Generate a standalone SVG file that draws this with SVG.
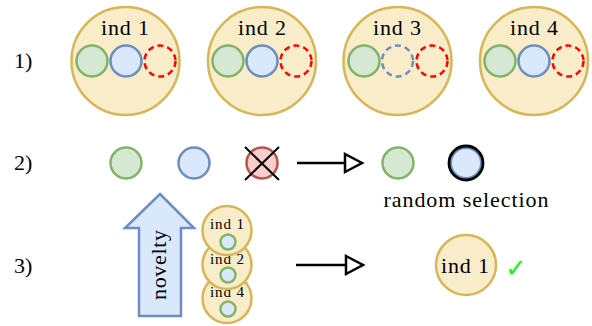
<svg xmlns="http://www.w3.org/2000/svg" width="592" height="326" viewBox="0 0 592 326">
<style>
.ind{fill:#f9edc9;stroke:#d6b656;stroke-width:2.5}
.g{fill:#d5e8d4;stroke:#82b366;stroke-width:2.5}
.b{fill:#dae8fc;stroke:#6c8ebf;stroke-width:2.5}
.gb{fill:#dae8fc;stroke:#82b366;stroke-width:2.5}
.r{fill:#f8cecc;stroke:#b85450;stroke-width:2.5}
.rd{fill:none;stroke:#ff0000;stroke-width:2.5;stroke-dasharray:6 4}
.bd{fill:none;stroke:#6c8ebf;stroke-width:2.5;stroke-dasharray:6 4}
.conn{stroke:#000;stroke-width:2.5;fill:none}
</style>
<defs>
<marker id="open" markerUnits="userSpaceOnUse" markerWidth="22" markerHeight="24" refX="19" refY="11" orient="auto">
<path d="M2,2 L19,11 L2,20 Z" fill="#fff" stroke="#000" stroke-width="2.5"/>
</marker>
</defs>

<text font-family="Liberation Serif" font-size="22" x="14" y="68">1)</text>
<text font-family="Liberation Serif" font-size="22" x="14" y="170">2)</text>
<text font-family="Liberation Serif" font-size="22" x="14" y="273">3)</text>

<g id="ind1">
<circle class="ind" cx="125.5" cy="61" r="54"/>
<text font-family="Liberation Serif" font-size="22" x="125" y="35" text-anchor="middle" textLength="48">ind 1</text>
<circle class="g" cx="92" cy="61" r="15.5"/>
<circle class="b" cx="126" cy="61" r="15.5"/>
<circle class="rd" cx="160" cy="61" r="15.5"/>
</g>
<g id="ind2">
<circle class="ind" cx="262" cy="61" r="54"/>
<text font-family="Liberation Serif" font-size="22" x="262" y="35" text-anchor="middle" textLength="48">ind 2</text>
<circle class="g" cx="228" cy="61" r="15.5"/>
<circle class="b" cx="262" cy="61" r="15.5"/>
<circle class="rd" cx="296" cy="61" r="15.5"/>
</g>
<g id="ind3">
<circle class="ind" cx="397.5" cy="61" r="54"/>
<text font-family="Liberation Serif" font-size="22" x="397" y="35" text-anchor="middle" textLength="48">ind 3</text>
<circle class="g" cx="364" cy="61" r="15.5"/>
<circle class="bd" cx="397.5" cy="61" r="15.5"/>
<circle class="rd" cx="432" cy="61" r="15.5"/>
</g>
<g id="ind4">
<circle class="ind" cx="534" cy="61" r="54"/>
<text font-family="Liberation Serif" font-size="22" x="534" y="35" text-anchor="middle" textLength="48">ind 4</text>
<circle class="g" cx="500" cy="61" r="15.5"/>
<circle class="b" cx="534" cy="61" r="15.5"/>
<circle class="rd" cx="568" cy="61" r="15.5"/>
</g>

<g id="row2-green"><circle class="g" cx="126" cy="163" r="15.5"/></g>
<g id="row2-blue"><circle class="b" cx="194" cy="163" r="15.5"/></g>
<g id="row2-red">
<circle class="r" cx="262" cy="163" r="15.5"/>
<path d="M245,147 L279,180 M279,147 L245,180" stroke="#000" stroke-width="2"/>
</g>
<g id="sel-green"><circle class="g" cx="398" cy="163" r="15.5"/></g>
<g id="sel-blue">
<circle cx="466" cy="163" r="15" fill="#dae8fc" stroke="#6c8ebf" stroke-width="2"/>
<circle cx="466" cy="163" r="17" fill="none" stroke="#000" stroke-width="2.8"/>
</g>
<text font-family="Liberation Serif" font-size="22" x="466" y="207" text-anchor="middle" textLength="165">random selection</text>

<g id="novelty">
<path d="M160,194 L194,228 L181,228 L181,316 L139,316 L139,228 L125,228 Z" fill="#dae8fc" stroke="#6c8ebf" stroke-width="2.5"/>
<text font-family="Liberation Serif" font-size="22" transform="translate(166,265) rotate(-90)" x="0" y="0" text-anchor="middle" textLength="70">novelty</text>
</g>

<g id="stack-ind4">
<circle class="ind" cx="227" cy="298.5" r="24.5"/>
<text font-family="Liberation Serif" font-size="15" x="227" y="297" text-anchor="middle" textLength="34">ind 4</text>
<circle class="gb" cx="228" cy="309" r="7.5"/>
</g>
<g id="stack-ind2">
<circle class="ind" cx="227" cy="264.5" r="24.5"/>
<text font-family="Liberation Serif" font-size="15" x="227" y="264" text-anchor="middle" textLength="34">ind 2</text>
<circle class="gb" cx="228" cy="275" r="7.5"/>
</g>
<g id="stack-ind1">
<circle class="ind" cx="227" cy="230.5" r="24.5"/>
<text font-family="Liberation Serif" font-size="15" x="227" y="229" text-anchor="middle" textLength="34">ind 1</text>
<circle class="gb" cx="228" cy="242" r="7.5"/>
</g>

<g id="result">
<circle class="ind" cx="466" cy="265" r="30"/>
<text font-family="Liberation Serif" font-size="22" x="465" y="273" text-anchor="middle" textLength="48">ind 1</text>
<text x="516" y="277" font-size="26" text-anchor="middle" font-family="DejaVu Sans" fill="#00ff00">✓</text>
</g>

<g id="connectors">
<line class="conn" x1="297" y1="163" x2="362" y2="163" marker-end="url(#open)"/>
<line class="conn" x1="296" y1="265" x2="363" y2="265" marker-end="url(#open)"/>
</g>
</svg>
